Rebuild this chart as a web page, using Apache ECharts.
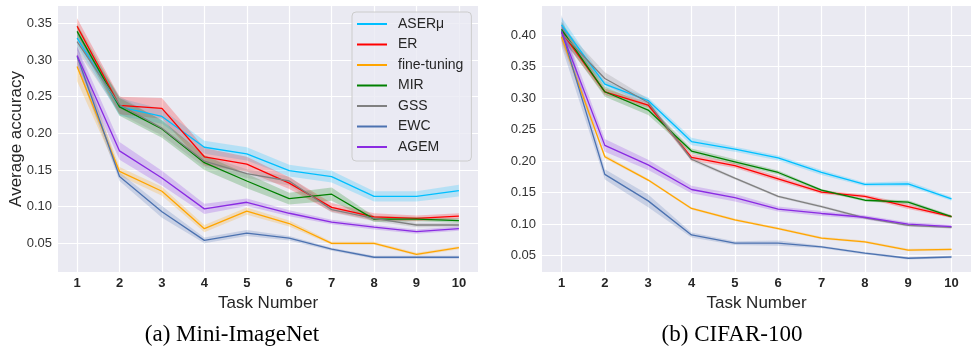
<!DOCTYPE html>
<html>
<head>
<meta charset="utf-8">
<script src="https://cdn.jsdelivr.net/npm/echarts@6/dist/echarts.min.js"></script>
<style>
  html, body { margin: 0; padding: 0; background: #fff; }
  #main { width: 974px; height: 347px; }
</style>
</head>
<body>
<div id="main"></div>
<script>
const tasks = [1, 2, 3, 4, 5, 6, 7, 8, 9, 10];
const methods = ['ASERμ', 'ER', 'fine-tuning', 'MIR', 'GSS', 'EWC', 'AGEM'];
const colors = ['#00bfff', '#ff0000', '#ffa500', '#008000', '#808080', '#4c72b0', '#8a2be2'];

// (a) Mini-ImageNet - mean accuracy
const miniAser = [0.330, 0.236, 0.223, 0.181, 0.172, 0.149, 0.141, 0.114, 0.114, 0.122];
const miniEr   = [0.346, 0.238, 0.234, 0.168, 0.158, 0.132, 0.099, 0.086, 0.084, 0.087];
const miniFt   = [0.291, 0.148, 0.121, 0.070, 0.094, 0.077, 0.050, 0.050, 0.035, 0.044];
const miniMir  = [0.339, 0.236, 0.206, 0.160, 0.135, 0.111, 0.117, 0.083, 0.083, 0.081];
const miniGss  = [0.325, 0.239, 0.207, 0.162, 0.145, 0.135, 0.096, 0.084, 0.075, 0.075];
const miniEwc  = [0.305, 0.141, 0.093, 0.054, 0.064, 0.057, 0.042, 0.031, 0.031, 0.031];
const miniAgem = [0.306, 0.176, 0.139, 0.097, 0.106, 0.091, 0.079, 0.072, 0.066, 0.070];
// (a) half width of the shaded bands
const miniAserCi = [0.010, 0.012, 0.010, 0.009, 0.009, 0.008, 0.008, 0.007, 0.007, 0.008];
const miniErCi   = [0.011, 0.012, 0.014, 0.012, 0.010, 0.008, 0.006, 0.005, 0.004, 0.004];
const miniFtCi   = [0.020, 0.006, 0.006, 0.005, 0.005, 0.004, 0.002, 0.002, 0.002, 0.002];
const miniMirCi  = [0.010, 0.012, 0.012, 0.010, 0.010, 0.008, 0.009, 0.004, 0.003, 0.003];
const miniGssCi  = [0.012, 0.012, 0.010, 0.008, 0.006, 0.006, 0.004, 0.004, 0.003, 0.003];
const miniEwcCi  = [0.015, 0.006, 0.008, 0.004, 0.004, 0.003, 0.002, 0.002, 0.002, 0.002];
const miniAgemCi = [0.012, 0.012, 0.010, 0.007, 0.005, 0.004, 0.003, 0.003, 0.003, 0.003];

// (b) CIFAR-100 - mean accuracy
const cifarAser = [0.416, 0.322, 0.296, 0.231, 0.219, 0.205, 0.182, 0.163, 0.164, 0.140];
const cifarEr   = [0.405, 0.310, 0.289, 0.206, 0.193, 0.172, 0.151, 0.144, 0.128, 0.112];
const cifarFt   = [0.397, 0.207, 0.170, 0.125, 0.107, 0.093, 0.078, 0.072, 0.059, 0.060];
const cifarMir  = [0.409, 0.310, 0.281, 0.216, 0.199, 0.182, 0.154, 0.138, 0.135, 0.112];
const cifarGss  = [0.403, 0.331, 0.293, 0.203, 0.173, 0.144, 0.128, 0.110, 0.098, 0.095];
const cifarEwc  = [0.407, 0.179, 0.137, 0.083, 0.070, 0.070, 0.064, 0.054, 0.046, 0.048];
const cifarAgem = [0.405, 0.225, 0.194, 0.155, 0.142, 0.124, 0.117, 0.111, 0.100, 0.096];
// (b) half width of the shaded bands
const cifarAserCi = [0.012, 0.005, 0.005, 0.006, 0.004, 0.004, 0.004, 0.003, 0.004, 0.003];
const cifarErCi   = [0.010, 0.005, 0.004, 0.005, 0.004, 0.004, 0.003, 0.003, 0.004, 0.002];
const cifarFtCi   = [0.010, 0.003, 0.002, 0.002, 0.002, 0.002, 0.002, 0.002, 0.002, 0.002];
const cifarMirCi  = [0.012, 0.008, 0.008, 0.004, 0.004, 0.003, 0.002, 0.002, 0.003, 0.002];
const cifarGssCi  = [0.012, 0.010, 0.006, 0.003, 0.002, 0.002, 0.002, 0.002, 0.002, 0.002];
const cifarEwcCi  = [0.025, 0.008, 0.010, 0.004, 0.003, 0.004, 0.002, 0.002, 0.002, 0.002];
const cifarAgemCi = [0.015, 0.010, 0.008, 0.006, 0.006, 0.004, 0.004, 0.003, 0.003, 0.003];

const miniMeans = [miniAser, miniEr, miniFt, miniMir, miniGss, miniEwc, miniAgem];
const miniCis = [miniAserCi, miniErCi, miniFtCi, miniMirCi, miniGssCi, miniEwcCi, miniAgemCi];
const cifarMeans = [cifarAser, cifarEr, cifarFt, cifarMir, cifarGss, cifarEwc, cifarAgem];
const cifarCis = [cifarAserCi, cifarErCi, cifarFtCi, cifarMirCi, cifarGssCi, cifarEwcCi, cifarAgemCi];

const FONT = '"Liberation Sans", Arial, sans-serif';
const TXT = '#262626';
const CAPTION_FONT = '23px "Liberation Serif", "Times New Roman", serif';

// shaded band drawn as one polygon through the axes
function bandSeries(idx, mean, ci, color) {
  const data = tasks.map((t, i) => [t, mean[i] - ci[i], mean[i] + ci[i]]);
  return {
    type: 'custom',
    xAxisIndex: idx,
    yAxisIndex: idx,
    silent: true,
    z: 1,
    data: data,
    encode: { x: 0, y: [1, 2] },
    renderItem: function (params, api) {
      if (params.dataIndex !== 0) return null;
      const lower = [], upper = [];
      for (let i = 0; i < data.length; i++) {
        lower.push(api.coord([api.value(0, i), api.value(1, i)]));
        upper.unshift(api.coord([api.value(0, i), api.value(2, i)]));
      }
      return {
        type: 'polygon',
        shape: { points: lower.concat(upper) },
        style: { fill: echarts.color.modifyAlpha(color, 0.22) }
      };
    }
  };
}

function lineSeries(idx, name, mean, color) {
  return {
    type: 'line',
    name: name,
    xAxisIndex: idx,
    yAxisIndex: idx,
    z: 3,
    symbol: 'none',
    data: tasks.map((t, i) => [t, mean[i]]),
    lineStyle: { color: color, width: 1.3 },
    itemStyle: { color: color }
  };
}

const series = [];
[miniMeans, cifarMeans].forEach((means, idx) => {
  const cis = idx === 0 ? miniCis : cifarCis;
  means.forEach((m, k) => series.push(bandSeries(idx, m, cis[k], colors[k])));
  means.forEach((m, k) => series.push(lineSeries(idx, methods[k], m, colors[k])));
});

function xAxisCfg(idx) {
  return {
    gridIndex: idx,
    type: 'value',
    min: 0.55,
    max: 10.45,
    splitNumber: 10,
    axisLine: { show: false },
    axisTick: { show: false },
    axisLabel: {
      fontFamily: FONT, fontSize: 13, fontWeight: 'bold', color: TXT, margin: 5,
      formatter: v => Math.abs(v - Math.round(v)) < 1e-6 ? String(Math.round(v)) : ''
    },
    splitLine: { show: true, showMinLine: false, showMaxLine: false, lineStyle: { color: '#ffffff', width: 1.2 } },
    name: 'Task Number',
    nameLocation: 'middle',
    nameGap: 19,
    nameTextStyle: { fontFamily: FONT, fontSize: 17, color: TXT }
  };
}

function yAxisCfg(idx, min, max, split, name) {
  return {
    gridIndex: idx,
    type: 'value',
    min: min,
    max: max,
    splitNumber: split,
    axisLine: { show: false },
    axisTick: { show: false },
    axisLabel: {
      fontFamily: FONT, fontSize: 13, color: '#333', margin: 6,
      formatter: v => Math.abs(v * 20 - Math.round(v * 20)) < 1e-6 ? v.toFixed(2) : ''
    },
    splitLine: { show: true, showMinLine: false, showMaxLine: false, lineStyle: { color: '#ffffff', width: 1.2 } },
    name: name,
    nameLocation: 'middle',
    nameMoveOverlap: false,
    nameGap: 33,
    nameTextStyle: { fontFamily: FONT, fontSize: 17, color: TXT }
  };
}

const chart = echarts.init(document.getElementById('main'));
chart.setOption({
  animation: false,
  textStyle: { fontFamily: FONT },
  grid: [
    { left: 58, top: 6, width: 420, height: 266, show: true, backgroundColor: '#eaeaf2', borderWidth: 0 },
    { left: 542, top: 6, width: 439, height: 266, show: true, backgroundColor: '#eaeaf2', borderWidth: 0 }
  ],
  xAxis: [xAxisCfg(0), xAxisCfg(1)],
  yAxis: [
    yAxisCfg(0, 0.0109, 0.3736, 7, 'Average accuracy'),
    yAxisCfg(1, 0.0242, 0.446, 8, '')
  ],
  legend: {
    data: methods,
    orient: 'vertical',
    left: 352,
    top: 12,
    padding: [4, 8, 6, 5],
    itemGap: 4.5,
    itemWidth: 30,
    itemHeight: 2,
    icon: 'rect',
    backgroundColor: 'rgba(234,234,242,0.8)',
    borderColor: '#cccccc',
    borderWidth: 1,
    borderRadius: 4,
    textStyle: { fontFamily: FONT, fontSize: 14, color: TXT, lineHeight: 16, padding: [0, 0, 0, 6] }
  },
  graphic: [
    { type: 'text', style: { text: '(a) Mini-ImageNet', x: 232, y: 335, align: 'center', verticalAlign: 'middle', font: CAPTION_FONT, fill: '#000' } },
    { type: 'text', style: { text: '(b) CIFAR-100', x: 732, y: 335, align: 'center', verticalAlign: 'middle', font: CAPTION_FONT, fill: '#000' } }
  ],
  series: series
});
</script>
</body>
</html>
